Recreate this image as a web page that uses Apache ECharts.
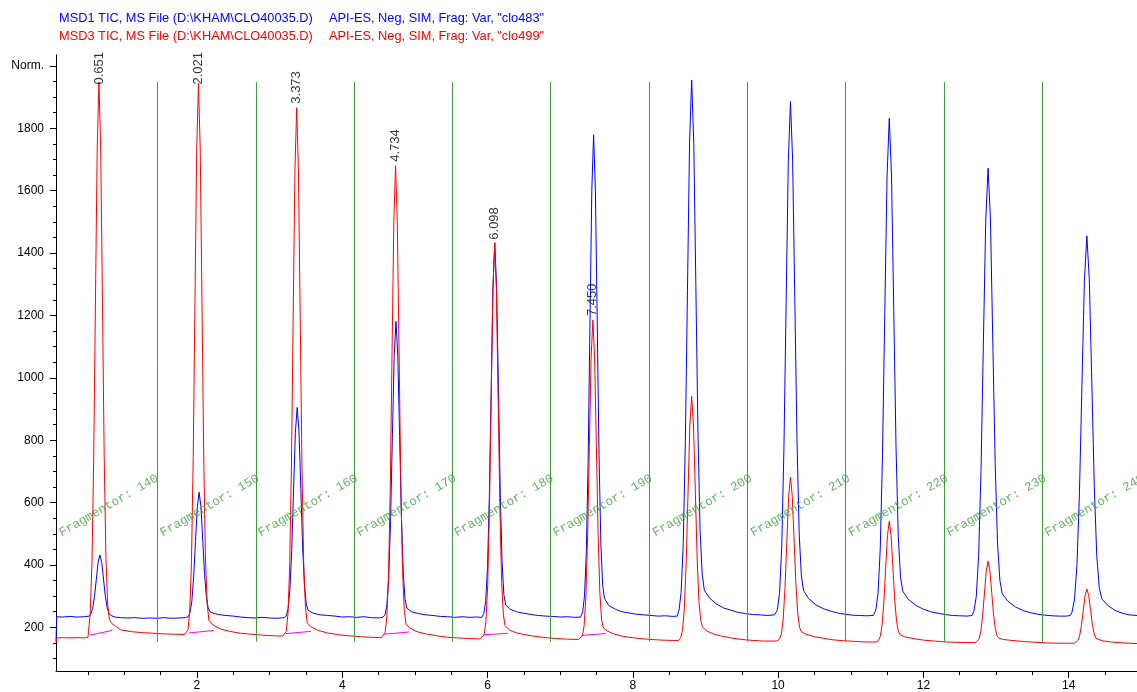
<!DOCTYPE html>
<html>
<head>
<meta charset="utf-8">
<title>MSD1 / MSD3 TIC</title>
<script src="https://cdn.jsdelivr.net/npm/echarts@6/dist/echarts.min.js"></script>
<style>
  html, body { margin: 0; padding: 0; background: #ffffff; }
  #chart { width: 1137px; height: 692px; }
</style>
</head>
<body>
<div id="chart"></div>
<script>
// ---- axis ranges and ticks ----
const xRange = [0.06, 14.94];
const yRange = [60, 2035];
const xMinorTicks = [0.5,1,1.5,2,2.5,3,3.5,4,4.5,5,5.5,6,6.5,7,7.5,8,8.5,9,9.5,10,10.5,11,11.5,12,12.5,13,13.5,14,14.5];
const xMajorTicks = [2,4,6,8,10,12,14];
const yMinorTicks = [100,150,200,250,300,350,400,450,500,550,600,650,700,750,800,850,900,950,1000,1050,1100,1150,1200,1250,1300,1350,1400,1450,1500,1550,1600,1650,1700,1750,1800,1850,1900,1950,2000];
const yMajorTicks = [200,400,600,800,1000,1200,1400,1600,1800,2000];
const yTopLabel = 2000; // shown as "Norm."

// ---- header lines ----
const headerMsd1 = ['MSD1 TIC, MS File (D:\\KHAM\\CLO40035.D)', 'API-ES, Neg, SIM, Frag: Var, "clo483"'];
const headerMsd3 = ['MSD3 TIC, MS File (D:\\KHAM\\CLO40035.D)', 'API-ES, Neg, SIM, Frag: Var, "clo499"'];

// ---- MSD1 TIC (blue), [time, abundance] ----
const msd1Trace = [
  [0.06,155],[0.07,234],[0.15,233],[0.25,235],[0.35,233],[0.45,234],
  [0.515,236],[0.54,243],[0.565,261],[0.59,298],[0.615,354],[0.64,409],[0.665,432],[0.69,408],[0.715,352],[0.74,298],[0.765,262],[0.79,245],[0.815,238],[0.87,233],[0.95,231],[1.05,230],[1.15,231],[1.25,229],[1.35,230],[1.45,229],[1.55,231],[1.65,229],[1.75,230],[1.84,231],
  [1.88,234],[1.905,248],[1.93,284],[1.955,361],[1.98,475],[2.005,585],[2.03,633],[2.055,587],[2.08,480],[2.105,370],[2.13,298],[2.155,262],[2.18,250],[2.24,244],[2.3,241],[2.4,238],[2.5,236],[2.6,233],[2.7,231],[2.8,230],[2.9,232],[3.0,230],[3.1,229],[3.2,231],
  [3.23,237],[3.255,260],[3.28,321],[3.305,449],[3.33,640],[3.355,825],[3.38,905],[3.405,826],[3.43,645],[3.455,458],[3.48,335],[3.505,275],[3.53,255],[3.6,245],[3.7,240],[3.8,238],[3.9,236],[4.0,233],[4.1,234],[4.2,232],[4.3,234],[4.4,231],[4.5,230],[4.56,232],
  [4.59,241],[4.615,273],[4.64,359],[4.665,540],[4.69,808],[4.715,1069],[4.74,1181],[4.765,1070],[4.79,812],[4.815,550],[4.84,375],[4.865,290],[4.89,262],[4.95,250],[5.05,244],[5.15,240],[5.25,238],[5.35,235],[5.45,234],[5.55,232],[5.65,234],[5.75,232],[5.85,233],[5.92,232],
  [5.95,245],[5.975,285],[6.0,394],[6.025,622],[6.05,961],[6.075,1291],[6.1,1433],[6.125,1292],[6.15,966],[6.175,632],[6.2,410],[6.225,305],[6.25,272],[6.31,258],[6.4,250],[6.5,245],[6.6,241],[6.7,238],[6.8,236],[6.9,235],[7.0,233],[7.1,234],[7.2,232],[7.28,233],
  [7.31,250],[7.335,301],[7.36,442],[7.385,735],[7.41,1171],[7.435,1597],[7.46,1779],[7.485,1600],[7.51,1180],[7.535,750],[7.56,470],[7.585,335],[7.61,292],[7.67,270],[7.76,258],[7.85,250],[7.95,246],[8.05,242],[8.15,240],[8.25,238],[8.35,236],[8.45,237],[8.55,235],[8.61,236],
  [8.636,255],[8.665,312],[8.694,468],[8.723,795],[8.752,1279],[8.781,1752],[8.81,1955],[8.839,1755],[8.868,1290],[8.897,820],[8.926,510],[8.955,370],[8.984,320],[9.05,295],[9.15,275],[9.25,262],[9.35,255],[9.45,248],[9.55,244],[9.65,241],[9.75,240],[9.85,238],[9.95,240],
  [9.99,256],[10.02,311],[10.05,460],[10.08,774],[10.11,1238],[10.14,1692],[10.17,1886],[10.2,1695],[10.23,1248],[10.26,798],[10.29,500],[10.32,365],[10.35,318],[10.42,292],[10.52,272],[10.62,260],[10.72,252],[10.82,246],[10.92,242],[11.02,239],[11.12,238],[11.22,237],[11.31,238],
  [11.344,255],[11.375,307],[11.406,452],[11.437,755],[11.468,1205],[11.499,1644],[11.53,1832],[11.561,1647],[11.592,1215],[11.623,778],[11.654,492],[11.685,360],[11.716,316],[11.79,290],[11.9,270],[12.0,258],[12.1,250],[12.2,245],[12.3,241],[12.4,238],[12.5,237],[12.6,236],[12.67,238],
  [12.695,252],[12.728,299],[12.76,430],[12.793,703],[12.825,1108],[12.858,1503],[12.89,1672],[12.923,1506],[12.955,1118],[12.988,725],[13.02,470],[13.053,350],[13.085,308],[13.16,284],[13.27,265],[13.37,254],[13.47,247],[13.57,242],[13.67,239],[13.77,237],[13.87,236],[13.97,236],[14.02,238],
  [14.046,249],[14.08,290],[14.114,401],[14.148,632],[14.182,976],[14.216,1311],[14.25,1455],[14.284,1313],[14.318,985],[14.352,652],[14.386,430],[14.42,328],[14.454,292],[14.53,272],[14.63,255],[14.73,246],[14.83,240],[14.94,238]
];

// ---- MSD3 TIC (red), [time, abundance] ----
const msd3Trace = [
  [0.06,150],[0.07,166],[0.15,167],[0.25,166],[0.35,167],[0.45,166],[0.5,168],
  [0.507,187],[0.531,245],[0.555,407],[0.579,745],[0.603,1246],[0.627,1735],[0.651,1948],[0.675,1740],[0.699,1252],[0.723,755],[0.747,425],[0.771,275],[0.795,225],[0.83,212],[0.95,192],[1.1,186],[1.25,183],[1.4,181],[1.55,179],[1.7,178],[1.83,177],
  [1.877,192],[1.901,250],[1.925,411],[1.949,748],[1.973,1248],[1.997,1736],[2.021,1945],[2.045,1736],[2.069,1250],[2.093,755],[2.117,425],[2.141,275],[2.165,222],[2.22,208],[2.32,195],[2.45,187],[2.6,181],[2.75,178],[2.9,175],[3.05,173],[3.18,172],
  [3.229,187],[3.253,243],[3.277,397],[3.301,720],[3.325,1199],[3.349,1666],[3.373,1866],[3.397,1666],[3.421,1202],[3.445,727],[3.469,410],[3.493,268],[3.517,215],[3.57,202],[3.67,190],[3.8,182],[3.95,176],[4.1,173],[4.25,170],[4.4,168],[4.54,167],
  [4.59,183],[4.614,233],[4.638,370],[4.662,658],[4.686,1085],[4.71,1501],[4.734,1680],[4.758,1501],[4.782,1088],[4.806,665],[4.83,385],[4.854,255],[4.878,210],[4.93,198],[5.03,186],[5.15,179],[5.3,173],[5.45,168],[5.6,166],[5.75,164],[5.9,163],
  [5.954,177],[5.978,219],[6.002,334],[6.026,575],[6.05,932],[6.074,1280],[6.098,1430],[6.122,1280],[6.146,935],[6.17,582],[6.194,348],[6.218,240],[6.242,205],[6.3,192],[6.4,182],[6.5,177],[6.65,171],[6.8,167],[6.95,164],[7.1,162],[7.25,161],
  [7.306,172],[7.33,206],[7.354,299],[7.378,494],[7.402,783],[7.426,1064],[7.45,1185],[7.474,1064],[7.498,786],[7.522,500],[7.546,312],[7.57,225],[7.594,198],[7.65,188],[7.75,178],[7.85,172],[7.95,168],[8.1,164],[8.25,161],[8.4,159],[8.55,158],[8.63,158],
  [8.66,167],[8.685,192],[8.71,264],[8.735,412],[8.76,633],[8.785,848],[8.81,940],[8.835,848],[8.86,640],[8.885,425],[8.91,285],[8.935,222],[8.96,200],[9.02,188],[9.12,178],[9.22,172],[9.35,166],[9.5,161],[9.65,158],[9.8,156],[9.98,156],
  [10.02,162],[10.045,179],[10.07,227],[10.095,327],[10.12,475],[10.145,620],[10.17,682],[10.195,620],[10.22,480],[10.245,338],[10.27,245],[10.295,200],[10.32,186],[10.38,178],[10.5,170],[10.62,165],[10.75,160],[10.9,157],[11.05,155],[11.2,153],[11.35,153],
  [11.38,157],[11.405,170],[11.43,205],[11.455,279],[11.48,388],[11.505,494],[11.53,540],[11.555,494],[11.58,392],[11.605,288],[11.63,220],[11.655,188],[11.68,176],[11.74,170],[11.86,164],[12.0,159],[12.15,156],[12.3,153],[12.45,152],[12.6,151],[12.72,151],
  [12.74,154],[12.765,162],[12.79,186],[12.815,236],[12.84,309],[12.865,381],[12.89,412],[12.915,381],[12.94,312],[12.965,242],[12.99,196],[13.015,172],[13.04,165],[13.1,161],[13.22,158],[13.4,154],[13.55,152],[13.7,150],[13.85,149],[14.0,149],[14.08,149],
  [14.1,151],[14.125,157],[14.15,172],[14.175,206],[14.2,255],[14.225,302],[14.25,323],[14.275,302],[14.3,258],[14.325,210],[14.35,180],[14.375,165],[14.4,160],[14.46,157],[14.58,153],[14.75,150],[14.94,148]
];

// ---- integrated MSD3 peaks: retention time and apex ----
const peakTimes = [0.651, 2.021, 3.373, 4.734, 6.098, 7.450];
const peakApex = [1948, 1945, 1866, 1680, 1430, 1185];

// ---- integration baselines under those peaks: [t start, value, t end, value] ----
const baselineSegments = [
  [0.53, 175, 0.83, 190],
  [1.89, 182, 2.23, 190],
  [3.22, 180, 3.57, 187],
  [4.58, 178, 4.92, 185],
  [5.94, 176, 6.28, 181],
  [7.29, 174, 7.63, 180]
];

// ---- fragmentor voltage switch events ----
const fragmentorSwitchTimes = [1.45, 2.81, 4.17, 5.51, 6.87, 8.23, 9.58, 10.92, 12.28, 13.64];
const fragmentorLineSpan = [154, 1948];
const fragmentorVoltages = [140, 150, 160, 170, 180, 190, 200, 210, 220, 230, 240];
const fragmentorLabelTimes = [0.16, 1.55, 2.90, 4.26, 5.60, 6.96, 8.33, 9.68, 11.03, 12.38, 13.73];
const fragmentorLabelLevel = 482;

const SANS = '"Liberation Sans", Arial, Helvetica, sans-serif';
const MONO = '"Liberation Mono", "Courier New", monospace';
const BLUE = '#0000ff';
const RED = '#ff0000';
const GREEN = '#3e9c3e';
const MAGENTA = '#ff00ff';
const HEADER_FONT = '12.8px ' + SANS;
const RT_FONT_SIZE = 13;
const RT_GAP = 4;        // px between apex and retention-time text
const RT_TOP_LIMIT = 52; // retention-time text never rises above this pixel row

const chart = echarts.init(document.getElementById('chart'), null, { renderer: 'canvas' });

function fmtTime(t) { return t.toFixed(3); }

const option = {
  animation: false,
  backgroundColor: '#ffffff',
  grid: { left: 56, right: 0, top: 55, bottom: 20, containLabel: false },
  graphic: [
    { type: 'text', left: 59, top: 12, silent: true, style: { text: headerMsd1[0], fill: BLUE, font: HEADER_FONT } },
    { type: 'text', left: 329, top: 12, silent: true, style: { text: headerMsd1[1], fill: BLUE, font: HEADER_FONT } },
    { type: 'text', left: 59, top: 30, silent: true, style: { text: headerMsd3[0], fill: RED, font: HEADER_FONT } },
    { type: 'text', left: 329, top: 30, silent: true, style: { text: headerMsd3[1], fill: RED, font: HEADER_FONT } }
  ],
  xAxis: [
    {
      type: 'value', min: xRange[0], max: xRange[1], position: 'bottom', offset: 0,
      axisLine: { show: true, lineStyle: { color: '#000', width: 1 } },
      axisTick: { show: true, customValues: xMinorTicks, length: 4, lineStyle: { color: '#000' } },
      axisLabel: { show: false },
      splitLine: { show: false }
    },
    {
      type: 'value', min: xRange[0], max: xRange[1], position: 'bottom', offset: 0,
      axisLine: { show: false },
      axisTick: { show: true, customValues: xMajorTicks, length: 7, lineStyle: { color: '#000' } },
      axisLabel: { show: true, customValues: xMajorTicks, margin: 9, color: '#000', fontFamily: SANS, fontSize: 12, formatter: v => String(v) },
      splitLine: { show: false }
    }
  ],
  yAxis: [
    {
      type: 'value', min: yRange[0], max: yRange[1], position: 'left', offset: 0,
      axisLine: { show: true, lineStyle: { color: '#000', width: 1 } },
      axisTick: { show: true, customValues: yMinorTicks, length: 3, lineStyle: { color: '#000' } },
      axisLabel: { show: false },
      splitLine: { show: false }
    },
    {
      type: 'value', min: yRange[0], max: yRange[1], position: 'left', offset: 0,
      axisLine: { show: false },
      axisTick: { show: true, customValues: yMajorTicks, length: 6, lineStyle: { color: '#000' } },
      axisLabel: {
        show: true, customValues: yMajorTicks, margin: 12, color: '#000', fontFamily: SANS, fontSize: 12,
        formatter: v => (v === yTopLabel ? 'Norm.' : String(v))
      },
      splitLine: { show: false }
    }
  ],
  series: [
    {
      name: 'fragmentor switches', type: 'line', data: [], silent: true, z: 1,
      markLine: {
        silent: true, symbol: ['none', 'none'], animation: false,
        label: { show: false },
        lineStyle: { color: GREEN, width: 1, type: 'solid' },
        emphasis: { disabled: true },
        data: fragmentorSwitchTimes.map(t => [{ coord: [t, fragmentorLineSpan[0]] }, { coord: [t, fragmentorLineSpan[1]] }])
      }
    },
    {
      name: 'MSD1 TIC', type: 'line', data: msd1Trace, showSymbol: false, symbol: 'none', silent: true, z: 2,
      lineStyle: { color: BLUE, width: 1 }
    },
    {
      name: 'MSD3 TIC', type: 'line', data: msd3Trace, showSymbol: false, symbol: 'none', silent: true, z: 3,
      lineStyle: { color: RED, width: 1 }
    },
    {
      name: 'integration baseline', type: 'line', data: [], silent: true, z: 4,
      markLine: {
        silent: true, symbol: ['none', 'none'], animation: false,
        label: { show: false },
        lineStyle: { color: MAGENTA, width: 1, type: 'solid' },
        emphasis: { disabled: true },
        data: baselineSegments.map(s => [{ coord: [s[0], s[1]] }, { coord: [s[2], s[3]] }])
      }
    },
    {
      name: 'fragmentor labels', type: 'scatter', symbolSize: 0, silent: true, z: 5,
      data: fragmentorLabelTimes.map((t, i) => [t, fragmentorLabelLevel, fragmentorVoltages[i]]),
      label: {
        show: true, position: 'inside', rotate: 30, align: 'left', verticalAlign: 'bottom',
        color: GREEN, fontFamily: MONO, fontSize: 12.5,
        formatter: p => 'Fragmentor: ' + p.value[2]
      }
    },
    {
      name: 'retention times', type: 'scatter', symbolSize: 0, silent: true, z: 6,
      data: peakTimes.map((t, i) => [t, peakApex[i]]),
      label: {
        show: true, position: 'inside', rotate: 90, align: 'left', verticalAlign: 'middle',
        padding: [0, 0, 0, RT_GAP], color: '#000', fontFamily: SANS, fontSize: RT_FONT_SIZE,
        formatter: p => fmtTime(p.value[0])
      }
    }
  ]
};

chart.setOption(option);

// Keep retention-time labels inside the top margin: labels that would rise
// above RT_TOP_LIMIT slide down onto their peak instead.
(function clampRetentionLabels() {
  const measure = document.createElement('canvas').getContext('2d');
  measure.font = RT_FONT_SIZE + 'px ' + SANS;
  const items = peakTimes.map((t, i) => {
    const apexY = chart.convertToPixel({ xAxisIndex: 0, yAxisIndex: 0 }, [t, peakApex[i]])[1];
    const textLen = measure.measureText(fmtTime(t)).width;
    const room = apexY - RT_TOP_LIMIT - textLen;
    const gap = Math.min(RT_GAP, room);
    return { value: [t, peakApex[i]], label: { padding: [0, 0, 0, gap] } };
  });
  chart.setOption({ series: [{}, {}, {}, {}, {}, { data: items }] });
})();
</script>
</body>
</html>
